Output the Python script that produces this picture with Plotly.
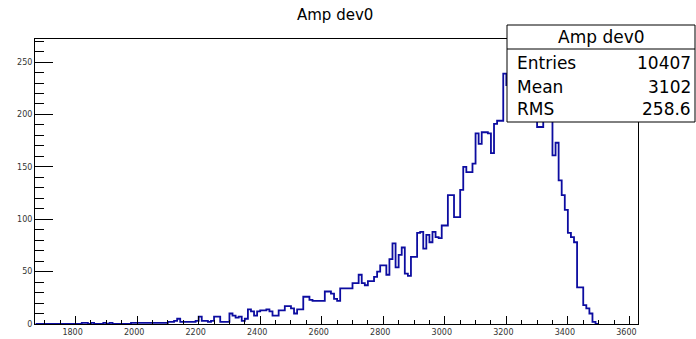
import plotly.graph_objects as go

# ---------------- data ----------------
bin_start = 1670
bin_width = 10
counts = [
    # 1670 - 1810
    0, 0, 0, 0, 0, 0, 0, 0, 0, 0, 0, 0, 0, 0, 0,
    # 1820 - 1970
    1, 1, 0, 1, 0, 0, 0, 1, 0, 1, 0, 0, 0, 0, 0, 0,
    # 1980 - 2090
    1, 1, 1, 1, 1, 1, 1, 1, 1, 1, 1, 1,
    # 2100 - 2190
    2, 2, 3, 5, 2, 2, 2, 2, 2, 3,
    # 2200 - 2290
    7, 3, 3, 2, 3, 7, 7, 2, 2, 2,
    # 2300 - 2390
    10, 8, 6, 7, 3, 5, 14, 12, 8, 12,
    # 2400 - 2490
    13, 13, 14, 12, 8, 8, 13, 13, 17, 17,
    # 2500 - 2590
    15, 10, 14, 14, 26, 26, 23, 22, 22, 22,
    # 2600 - 2690
    22, 31, 31, 29, 24, 22, 34, 34, 34, 34,
    # 2700 - 2790
    39, 39, 47, 39, 37, 41, 41, 45, 50, 56,
    # 2800 - 2890
    56, 47, 62, 77, 54, 66, 73, 48, 46, 64,
    # 2900 - 2990
    64, 87, 88, 72, 85, 78, 88, 83, 82, 94,
    # 3000 - 3090
    94, 123, 123, 102, 102, 128, 150, 145, 145, 153,
    # 3100 - 3190
    182, 172, 183, 183, 182, 163, 191, 194, 194, 239,
    # 3200 - 3290
    228, 247, 236, 259, 241, 250, 232, 244, 226, 212,
    # 3300 - 3390
    188, 188, 214, 206, 198, 161, 173, 137, 123, 109,
    # 3400 - 3490
    87, 83, 78, 35, 35, 18, 15, 10, 2, 0,
]

x_tick_values = [1800, 2000, 2200, 2400, 2600, 2800, 3000, 3200, 3400, 3600]
y_tick_values = [0, 50, 100, 150, 200, 250]

hist_title = "Amp dev0"
stat_labels = ["Entries", "Mean", "RMS"]
stat_values = ["10407", "3102", "258.6"]

# ---------------- layout geometry ----------------
W, H = 696, 339
FRAME_L, FRAME_R, FRAME_T, FRAME_B = 35, 638, 39, 324   # frame in window pixels
ML, MT = FRAME_L, FRAME_T
MR, MB = W - FRAME_R, H - FRAME_B
PW, PH = FRAME_R - FRAME_L, FRAME_B - FRAME_T


def px_x(px):
    return (px - FRAME_L) / PW


def px_y(py):
    return (FRAME_B - py) / PH


edges = [bin_start + i * bin_width for i in range(len(counts) + 1)]
ys = counts + [counts[-1]]

fig = go.Figure()
fig.add_trace(go.Scatter(
    x=edges, y=ys, mode="lines", line_shape="hv",
    line=dict(color="#0c0ca0", width=1.8),
    hoverinfo="skip", showlegend=False,
))

FONT = "DejaVu Sans"

fig.update_layout(
    width=W, height=H, autosize=False,
    margin=dict(l=ML, r=MR, t=MT, b=MB, pad=0, autoexpand=False),
    paper_bgcolor="white", plot_bgcolor="white",
    showlegend=False,
    font=dict(family=FONT, color="black"),
)

fig.update_xaxes(
    range=[1668, 3628], tickvals=x_tick_values,
    ticks="inside", ticklen=8, tickwidth=1, tickcolor="black",
    showline=True, linecolor="black", linewidth=1, mirror=True,
    showgrid=False, zeroline=False, automargin=False,
    tickfont=dict(family=FONT, size=8, color="#333"),
    ticklabelshift=-3,
    minor=dict(dtick=50, tick0=0, ticks="inside", ticklen=4, tickcolor="black", tickwidth=1, showgrid=False),
)
fig.update_yaxes(
    range=[0, 272], tickvals=y_tick_values,
    ticks="inside", ticklen=18, tickwidth=1, tickcolor="black",
    showline=True, linecolor="black", linewidth=1, mirror=True,
    showgrid=False, zeroline=False, automargin=False,
    tickfont=dict(family=FONT, size=8, color="#333"),
    minor=dict(dtick=10, tick0=0, ticks="inside", ticklen=9, tickcolor="black", tickwidth=1, showgrid=False),
)

# main title
fig.add_annotation(
    text=hist_title, xref="paper", yref="paper",
    x=px_x(335), y=px_y(15.5), xanchor="center", yanchor="middle",
    showarrow=False, borderpad=0, font=dict(family=FONT, size=15, color="black"),
)

# stats box
bx0, bx1, by0, by1, bsep = 507, 695, 122, 25, 49
fig.add_shape(type="rect", xref="paper", yref="paper",
              x0=px_x(bx0), x1=px_x(bx1), y0=px_y(by0), y1=px_y(by1),
              line=dict(color="black", width=1), fillcolor="white", layer="above")
fig.add_shape(type="line", xref="paper", yref="paper",
              x0=px_x(bx0), x1=px_x(bx1), y0=px_y(bsep), y1=px_y(bsep),
              line=dict(color="black", width=1), layer="above")
fig.add_annotation(
    text=hist_title, xref="paper", yref="paper",
    x=px_x(601), y=px_y(37), xanchor="center", yanchor="middle",
    showarrow=False, font=dict(family=FONT, size=17, color="black"),
)
row_y = [63, 86.5, 108.5]
for lab, val, ry in zip(stat_labels, stat_values, row_y):
    fig.add_annotation(text=lab, xref="paper", yref="paper",
                       x=px_x(515), y=px_y(ry), xanchor="left", yanchor="middle",
                       showarrow=False, font=dict(family=FONT, size=17, color="black"))
    fig.add_annotation(text=val, xref="paper", yref="paper",
                       x=px_x(693), y=px_y(ry), xanchor="right", yanchor="middle",
                       showarrow=False, font=dict(family=FONT, size=17, color="black"))

fig.write_html(
    "out.html",
    config={"displayModeBar": False, "staticPlot": True},
    post_script="document.body.style.margin='0';document.body.style.overflow='hidden';",
)
